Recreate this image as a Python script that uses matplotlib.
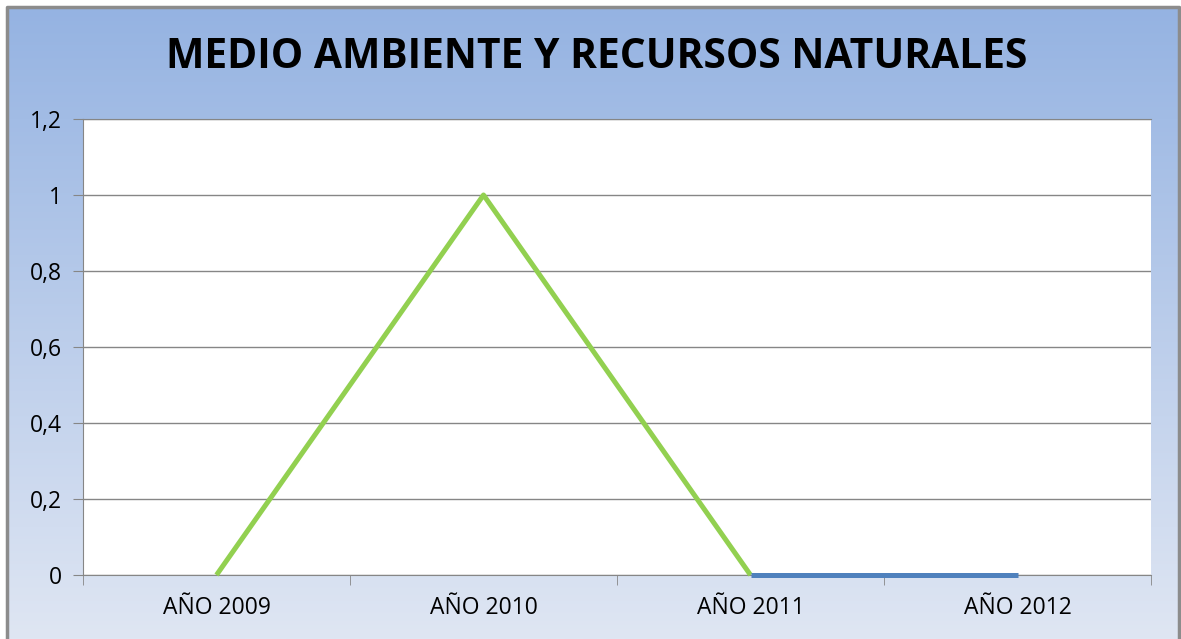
import numpy as np
import matplotlib.pyplot as plt
from matplotlib.colors import LinearSegmentedColormap

categories = ["AÑO 2009", "AÑO 2010", "AÑO 2011", "AÑO 2012"]
green_values = [0, 1, 0]          # 2009 - 2011
blue_values = [0, 0]              # 2011 - 2012
y_ticks = [0, 0.2, 0.4, 0.6, 0.8, 1, 1.2]
y_labels = ["0", "0,2", "0,4", "0,6", "0,8", "1", "1,2"]
title = "MEDIO AMBIENTE Y RECURSOS NATURALES"

W, H = 1181, 639
fig = plt.figure(figsize=(W / 100, H / 100), dpi=100)

# gradient background with grey frame
bg = fig.add_axes([0, 0, 1, 1])
cmap = LinearSegmentedColormap.from_list("bg", ["#95b3e2", "#dfe6f3"])
grad = np.linspace(0, 1, 256).reshape(-1, 1)
bg.imshow(grad, cmap=cmap, aspect="auto", extent=[7, W - 2, H, 7])
bg.set_xlim(0, W)
bg.set_ylim(H, 0)
bg.plot([7, 7, W - 2, W - 2], [H, 7, 7, H], color="#8c8c8c", lw=2.5)
bg.axis("off")

ax = fig.add_axes([83 / W, 1 - 575 / H, (1151 - 83) / W, (575 - 119) / H])
ax.set_facecolor("white")
x = np.arange(len(categories))
ax.plot(x[:3], green_values, color="#92d050", lw=3.6, solid_capstyle="butt",
        zorder=3, clip_on=False)
ax.plot(x[2:], blue_values, color="#4f81bd", lw=3.6, solid_capstyle="butt",
        zorder=4, clip_on=False)

ax.set_xlim(-0.5, len(categories) - 0.5)
ax.set_ylim(0, 1.2)
ax.set_yticks(y_ticks)
ax.set_yticklabels(y_labels, fontsize=16.5, family="Open Sans")
ax.set_xticks(x)
ax.set_xticklabels(categories, fontsize=16.5, family="Open Sans")
ax.set_xticks(np.arange(-0.5, len(categories)), minor=True)
ax.tick_params(axis="x", which="major", length=0, pad=15)
ax.tick_params(axis="x", which="minor", length=7, color="#868686")
ax.tick_params(axis="y", length=7, color="#868686", pad=8)
ax.grid(axis="y", color="#868686", lw=1)
ax.set_axisbelow(True)
for side in ["left", "bottom", "top"]:
    ax.spines[side].set_color("#868686")
ax.spines["right"].set_visible(False)

fig.text(597 / W, 1 - 58 / H, title, ha="center", va="center",
         fontsize=29.3, fontweight="bold", family="Open Sans")

fig.savefig("out.png", dpi=100)
